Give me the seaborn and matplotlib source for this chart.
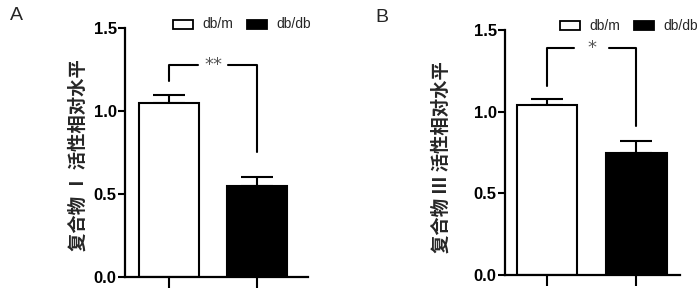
import matplotlib
matplotlib.use("Agg")
import matplotlib.pyplot as plt
import seaborn as sns
import pandas as pd
from matplotlib.patches import Rectangle

groups = ["db/m", "db/db"]
complex1_mean = [1.05, 0.55]
complex1_sem = [0.05, 0.05]
complex3_mean = [1.04, 0.75]
complex3_sem = [0.04, 0.07]
# significance brackets: [top level, left leg bottom, right leg bottom]
bracket1 = [1.28, 1.18, 0.75]
bracket3 = [1.39, 1.16, 0.91]
stars = ["**", "*"]
ylabels = ["复合物 Ⅰ 活性相对水平", "复合物 Ⅲ 活性相对水平"]
panel_letters = ["A", "B"]
yticks = [0.0, 0.5, 1.0, 1.5]

sns.set_theme(style="ticks")
plt.rcParams["font.family"] = ["Liberation Sans", "DejaVu Sans"]

fig = plt.figure(figsize=(7.0, 2.88), dpi=100)
axA = fig.add_axes([125/700, (288-276.7)/288, 183/700, 248.4/288])
axB = fig.add_axes([505/700, (288-275)/288, 175/700, 245/288])

panels = [
    (axA, complex1_mean, complex1_sem, bracket1, stars[0], ylabels[0], (-0.5, 1.58), (-0.205, 0.49)),
    (axB, complex3_mean, complex3_sem, bracket3, stars[1], ylabels[1], (-0.47, 1.49), (-0.31, 0.48)),
]

for ax, mean, sem, br, star, ylab, xl, lc in panels:
    df = pd.DataFrame({"group": groups, "value": mean})
    # error bars first (upper only)
    ax.errorbar([0, 1], mean, yerr=[[0, 0], sem], fmt="none", ecolor="black",
                elinewidth=1.5, capsize=11.5, capthick=1.5, zorder=1)
    sns.barplot(data=df, x="group", y="value", hue="group",
                palette=["white", "black"], edgecolor="black", linewidth=1.5,
                width=0.68, legend=False, ax=ax, zorder=2)
    ax.set_xlim(*xl)
    ax.set_ylim(0, 1.5)
    ax.set_yticks(yticks)
    ax.set_yticklabels([f"{t:.1f}" for t in yticks], fontsize=12, fontweight="bold")
    ax.set_xticks([0, 1])
    ax.set_xticklabels([])
    ax.set_xlabel("")
    ax.set_ylabel(ylab, fontsize=13.2, fontweight="bold",
                  family=["Noto Sans CJK SC", "DejaVu Sans"])
    ax.yaxis.set_label_coords(*lc)
    for s in ["top", "right"]:
        ax.spines[s].set_visible(False)
    for s in ["left", "bottom"]:
        ax.spines[s].set_linewidth(1.6)
        ax.spines[s].set_color("black")
    ax.tick_params(axis="y", length=5, width=1.5, pad=1, colors="black")
    ax.tick_params(axis="x", length=8, width=1.5, colors="black")
    ax.set_facecolor("white")
    # bracket
    top, lb, rb = br
    gap = 0.17 if len(star) == 2 else 0.2
    ax.plot([0, 0, 0.5 - gap], [lb, top, top], color="black", lw=1.5, clip_on=False)
    ax.plot([0.5 + gap, 1, 1], [top, top, rb], color="black", lw=1.5, clip_on=False)
    ax.text(0.5, top, star, ha="center", va="center", fontsize=13, color="#555555",
            family="DejaVu Sans")

# legends
def legend(x0, y_top):
    fw = 20/700
    fh = 9/288
    fig.patches.append(Rectangle((x0/700, 1 - (y_top+fh*288)/288), fw, fh,
                                 transform=fig.transFigure, facecolor="white",
                                 edgecolor="black", lw=1.3))
    fig.text((x0+29)/700, 1 - (y_top+4.5)/288, groups[0], fontsize=10,
             va="center", ha="left")
    fig.patches.append(Rectangle(((x0+74)/700, 1 - (y_top+fh*288)/288), fw, fh,
                                 transform=fig.transFigure, facecolor="black",
                                 edgecolor="black", lw=1.3))
    fig.text((x0+103)/700, 1 - (y_top+4.5)/288, groups[1], fontsize=10,
             va="center", ha="left")

legend(173, 20)
legend(560, 21)

fig.text(10/700, 1 - 15/288, panel_letters[0], fontsize=14, va="center", ha="left")
fig.text(375/700, 1 - 17/288, panel_letters[1], fontsize=14, va="center", ha="left")

fig.savefig("out.png", dpi=100, facecolor="white")
